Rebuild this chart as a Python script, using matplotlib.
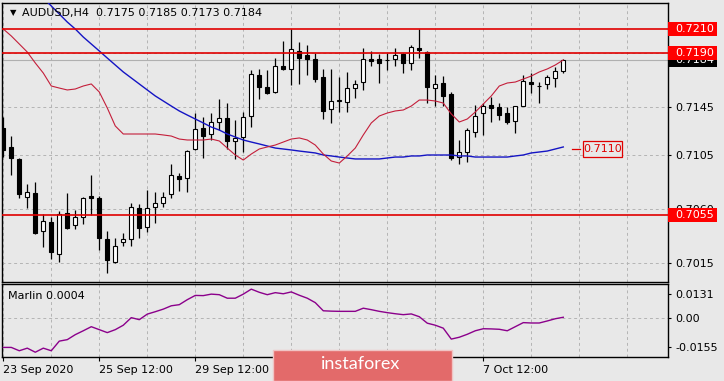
import matplotlib
matplotlib.use('Agg')
import matplotlib.pyplot as plt
from matplotlib.patches import Rectangle
from matplotlib.transforms import blended_transform_factory

# AUDUSD H4 candles
opens = [0.71275, 0.71117, 0.71017, 0.70700, 0.70733, 0.70417, 0.70492, 0.70225, 0.70567, 0.70467,
         0.70533, 0.70708, 0.70695, 0.70350, 0.70158, 0.70325, 0.70350, 0.70608, 0.70450, 0.70617,
         0.70650, 0.70725, 0.70875, 0.70858, 0.71100, 0.71275, 0.71225, 0.71325, 0.71358, 0.71167,
         0.71200, 0.71375, 0.71717, 0.71617, 0.71575, 0.71792, 0.71767, 0.71917, 0.71883, 0.71850,
         0.71700, 0.71433, 0.71500, 0.71492, 0.71608, 0.71658, 0.71850, 0.71850, 0.71842, 0.71850,
         0.71892, 0.71817, 0.71942, 0.71908, 0.71608, 0.71650, 0.71558, 0.71033, 0.71075, 0.71242,
         0.71400, 0.71467, 0.71450, 0.71400, 0.71333, 0.71458, 0.71658, 0.71625, 0.71642, 0.71692,
         0.71750]
highs = [0.71367, 0.71208, 0.71025, 0.70808, 0.70825, 0.70558, 0.70533, 0.70583, 0.70733, 0.70592,
         0.70700, 0.70883, 0.70705, 0.70417, 0.70358, 0.70400, 0.70650, 0.70642, 0.70758, 0.70742,
         0.70742, 0.70975, 0.70900, 0.71092, 0.71400, 0.71367, 0.71400, 0.71517, 0.71483, 0.71342,
         0.71408, 0.71758, 0.71767, 0.71758, 0.71858, 0.72000, 0.72100, 0.71992, 0.71967, 0.71900,
         0.71767, 0.71767, 0.71700, 0.71742, 0.71675, 0.71942, 0.71917, 0.71892, 0.71900, 0.71942,
         0.71900, 0.71967, 0.72100, 0.71917, 0.71717, 0.71708, 0.71575, 0.71175, 0.71275, 0.71467,
         0.71483, 0.71533, 0.71483, 0.71450, 0.71458, 0.71717, 0.71733, 0.71658, 0.71717, 0.71783,
         0.71850]
lows = [0.71033, 0.70883, 0.70692, 0.70608, 0.70392, 0.70283, 0.70183, 0.70158, 0.70433, 0.70433,
        0.70475, 0.70550, 0.70258, 0.70067, 0.70150, 0.70292, 0.70292, 0.70358, 0.70408, 0.70483,
        0.70617, 0.70692, 0.70750, 0.70742, 0.71092, 0.71025, 0.71175, 0.71258, 0.71100, 0.71017,
        0.71075, 0.71283, 0.71517, 0.71558, 0.71567, 0.71758, 0.71633, 0.71642, 0.71717, 0.71658,
        0.71350, 0.71317, 0.71408, 0.71408, 0.71525, 0.71592, 0.71792, 0.71650, 0.71758, 0.71792,
        0.71733, 0.71758, 0.71858, 0.71483, 0.71458, 0.71458, 0.71008, 0.70975, 0.70992, 0.71200,
        0.71217, 0.71325, 0.71342, 0.71308, 0.71233, 0.71458, 0.71567, 0.71483, 0.71600, 0.71617,
        0.71730]
closes = [0.71092, 0.71025, 0.70725, 0.70742, 0.70400, 0.70500, 0.70242, 0.70558, 0.70442, 0.70533,
          0.70692, 0.70692, 0.70358, 0.70175, 0.70292, 0.70350, 0.70617, 0.70442, 0.70608, 0.70650,
          0.70700, 0.70883, 0.70850, 0.71083, 0.71267, 0.71208, 0.71325, 0.71358, 0.71167, 0.71192,
          0.71367, 0.71725, 0.71617, 0.71567, 0.71792, 0.71767, 0.71933, 0.71858, 0.71850, 0.71683,
          0.71417, 0.71500, 0.71508, 0.71608, 0.71642, 0.71850, 0.71833, 0.71817, 0.71840, 0.71883,
          0.71817, 0.71950, 0.71925, 0.71617, 0.71642, 0.71542, 0.71025, 0.71075, 0.71258, 0.71375,
          0.71458, 0.71442, 0.71383, 0.71325, 0.71458, 0.71667, 0.71642, 0.71621, 0.71700, 0.71750,
          0.71840]

# moving averages as drawn on the chart
ma_slow = [0.72742, 0.72658, 0.72575, 0.72500, 0.72425, 0.72358, 0.72292, 0.72225, 0.72158, 0.72100,
           0.72033, 0.71975, 0.71917, 0.71858, 0.71800, 0.71742, 0.71692, 0.71642, 0.71592, 0.71542,
           0.71500, 0.71458, 0.71417, 0.71383, 0.71350, 0.71317, 0.71283, 0.71258, 0.71225, 0.71200,
           0.71175, 0.71158, 0.71142, 0.71125, 0.71108, 0.71100, 0.71092, 0.71083, 0.71075, 0.71067,
           0.71050, 0.71042, 0.71033, 0.71025, 0.71017, 0.71017, 0.71017, 0.71017, 0.71025, 0.71033,
           0.71033, 0.71042, 0.71042, 0.71050, 0.71050, 0.71050, 0.71050, 0.71042, 0.71042, 0.71033,
           0.71033, 0.71033, 0.71033, 0.71033, 0.71042, 0.71050, 0.71067, 0.71075, 0.71083, 0.71100,
           0.71117]
ma_fast = [0.72100, 0.72042, 0.71975, 0.71908, 0.71817, 0.71733, 0.71625, 0.71608, 0.71592, 0.71600,
           0.71625, 0.71642, 0.71575, 0.71442, 0.71292, 0.71225, 0.71225, 0.71225, 0.71225, 0.71225,
           0.71217, 0.71208, 0.71183, 0.71175, 0.71175, 0.71175, 0.71183, 0.71167, 0.71108, 0.71050,
           0.71008, 0.71058, 0.71100, 0.71117, 0.71133, 0.71158, 0.71183, 0.71192, 0.71175, 0.71133,
           0.71058, 0.71000, 0.70983, 0.71042, 0.71108, 0.71217, 0.71317, 0.71375, 0.71400, 0.71417,
           0.71425, 0.71458, 0.71508, 0.71508, 0.71500, 0.71483, 0.71392, 0.71325, 0.71350, 0.71408,
           0.71475, 0.71542, 0.71625, 0.71650, 0.71658, 0.71683, 0.71708, 0.71742, 0.71767, 0.71800,
           0.71842]

# Marlin oscillator (lower window)
marlin = [-0.0159, -0.0159, -0.0177, -0.0163, -0.0185, -0.0163, -0.0177, -0.0125, -0.0117, -0.0090,
          -0.0069, -0.0047, -0.0063, -0.0079, -0.0063, -0.0039, 0.0002, -0.0009, 0.0021, 0.0034,
          0.0048, 0.0066, 0.0072, 0.0099, 0.0122, 0.0121, 0.0129, 0.0126, 0.0107, 0.0107,
          0.0129, 0.0156, 0.0139, 0.0126, 0.0137, 0.0131, 0.0141, 0.0123, 0.0107, 0.0083,
          0.0039, 0.0037, 0.0036, 0.0036, 0.0036, 0.0053, 0.0045, 0.0036, 0.0029, 0.0023,
          0.0018, 0.0022, 0.0007, -0.0028, -0.0039, -0.0055, -0.0114, -0.0104, -0.0088, -0.0069,
          -0.0058, -0.0059, -0.0061, -0.0069, -0.0047, -0.0025, -0.0027, -0.0027, -0.0016, -0.0004,
          0.0004]

# labels under the watermark are not visible in the screenshot, so they stay empty
date_ticks = [0, 12, 24, 36, 48, 60]
date_labels = ['23 Sep 2020', '25 Sep 12:00', '29 Sep 12:00', '', '', '7 Oct 12:00']
price_ticks = [0.7015, 0.7060, 0.7105, 0.7145, 0.7190]
price_tick_labels = ['0.7015', '0.7060', '0.7105', '0.7145', '']
levels = [0.7210, 0.7190, 0.7055]
level_labels = ['0.7210', '0.7190', '0.7055']
last_price = 0.7184
ma_mark = 0.7110
marlin_ticks = [0.0131, 0.0, -0.0155]
marlin_tick_labels = ['0.0131', '0.00', '-0.0155']
header = 'AUDUSD,H4  0.7175 0.7185 0.7173 0.7184'

BG = '#e8e8e8'
RED = '#e00000'
GRID = '#b4b4b4'
W, H = 724.0, 381.0
PPP = 12000.0  # pixels per price unit in the main window


def price_box(ax, price, text, face, zo):
    trans = blended_transform_factory(ax.transAxes, ax.transData)
    h = 13.5 / PPP
    ax.add_patch(Rectangle((1.0, price - h / 2), 49 / 666.0, h, transform=trans,
                           facecolor=face, edgecolor='none', clip_on=False, zorder=zo))
    ax.text(1.0 + 7 / 666.0, price, text, transform=trans, color='white', fontsize=8,
            va='center', ha='left', clip_on=False, zorder=zo + 0.5)


def main():
    fig = plt.figure(figsize=(W / 100, H / 100), dpi=100, facecolor=BG)
    ax = fig.add_axes([2 / W, 1 - 282 / H, 666 / W, 279 / H], facecolor=BG)
    sub = fig.add_axes([2 / W, 1 - 357 / H, 666 / W, 73 / H], facecolor=BG)

    n = len(closes)
    x = list(range(n))
    xlim = (-0.16, -0.16 + 666 / 8.0)

    # candles
    ax.vlines(x, lows, highs, color='black', lw=0.9, zorder=2)
    for i in x:
        o, c = opens[i], closes[i]
        bull = c >= o
        hgt = max(abs(c - o), 0.00002)
        ax.bar(i, hgt, bottom=min(o, c), width=0.55, color='white' if bull else 'black',
               edgecolor='black', linewidth=0.8, zorder=2.5)

    ax.plot(x, ma_slow, color='#1414c4', lw=1.0, zorder=3)
    ax.plot(x, ma_fast, color='#c41e3a', lw=0.8, zorder=3)

    for lv in levels:
        ax.axhline(lv, color=RED, lw=1.2, zorder=4)
    ax.axhline(last_price, color='#b0b0b0', lw=0.8, zorder=1)

    ax.set_xlim(*xlim)
    ax.set_ylim(0.7145 - 175 / PPP, 0.7145 + 104 / PPP)
    ax.set_axisbelow(True)
    ax.set_xticks(range(0, 84, 6))
    ax.tick_params(axis='x', length=0, labelbottom=False)
    ax.yaxis.tick_right()
    ax.set_yticks(price_ticks)
    ax.set_yticklabels(price_tick_labels)
    ax.tick_params(axis='y', direction='out', length=2.5, pad=3, labelsize=8, colors='black')
    ax.grid(True, color=GRID, linestyle=(0, (3, 3)), lw=0.7)
    for s in ax.spines.values():
        s.set_color('black')
        s.set_linewidth(1)

    # price labels on the right scale
    price_box(ax, last_price, '0.7184', 'black', 6)
    for lv, lb in zip(levels, level_labels):
        price_box(ax, lv, lb, '#ff0000', 7)

    # label of the slow average
    ax.plot([n + 0.1, n + 1.1], [ma_mark, ma_mark], color=RED, lw=0.9, clip_on=False, zorder=5)
    ax.add_patch(Rectangle((n + 1.5, ma_mark - 8 / PPP), 4.9, 16 / PPP, facecolor=BG,
                           edgecolor=RED, lw=0.9, zorder=5))
    ax.text(n + 1.5 + 2.45, ma_mark, '0.7110', color=RED, fontsize=8, ha='center', va='center', zorder=6)

    ax.text(8 / 666.0, 1 - 10 / 279.0, '\u25bc', transform=ax.transAxes, fontsize=6,
            va='center', ha='left', color='black')
    ax.text(19.5 / 666.0, 1 - 10 / 279.0, header, transform=ax.transAxes, fontsize=8,
            va='center', ha='left', color='black')

    # Marlin window
    sub.plot(x, marlin, color='#8b008b', lw=1.0, zorder=3)
    sub.axhline(0, color=GRID, linestyle=(0, (3, 3)), lw=0.7, zorder=1)
    sub.set_xlim(*xlim)
    sub.set_ylim(-39 / 1850.0, 34 / 1850.0)
    sub.set_xticks(range(0, 84, 6), minor=True)
    sub.set_xticks(date_ticks)
    sub.set_xticklabels(date_labels)
    for lbl in sub.get_xticklabels():
        lbl.set_ha('left')
    sub.tick_params(axis='x', which='major', direction='out', length=3, pad=2.5, labelsize=8)
    sub.tick_params(axis='x', which='minor', length=0)
    sub.grid(True, axis='x', which='both', color=GRID, linestyle=(0, (3, 3)), lw=0.7)
    sub.set_axisbelow(True)
    sub.yaxis.tick_right()
    sub.set_yticks(marlin_ticks)
    sub.set_yticklabels(marlin_tick_labels)
    sub.tick_params(axis='y', direction='out', length=2.5, pad=3, labelsize=8)
    for s in sub.spines.values():
        s.set_color('black')
        s.set_linewidth(1)
    sub.text(6 / 666.0, 1 - 12 / 73.0, 'Marlin %.4f' % marlin[-1], transform=sub.transAxes,
             fontsize=8, va='center', ha='left')

    # watermark
    fig.add_artist(Rectangle((273 / W, 0), 178.5 / W, 31.5 / H, transform=fig.transFigure,
                             facecolor='#e36a6a', edgecolor='#f0c4c4', lw=1, zorder=10))
    fig.text(361 / W, 1 - 364 / H, 'instaforex', color='white', fontsize=13,
             family='Lato', ha='center', va='center', zorder=11)

    fig.savefig('out.png', dpi=100, facecolor=BG)


if __name__ == '__main__':
    main()
